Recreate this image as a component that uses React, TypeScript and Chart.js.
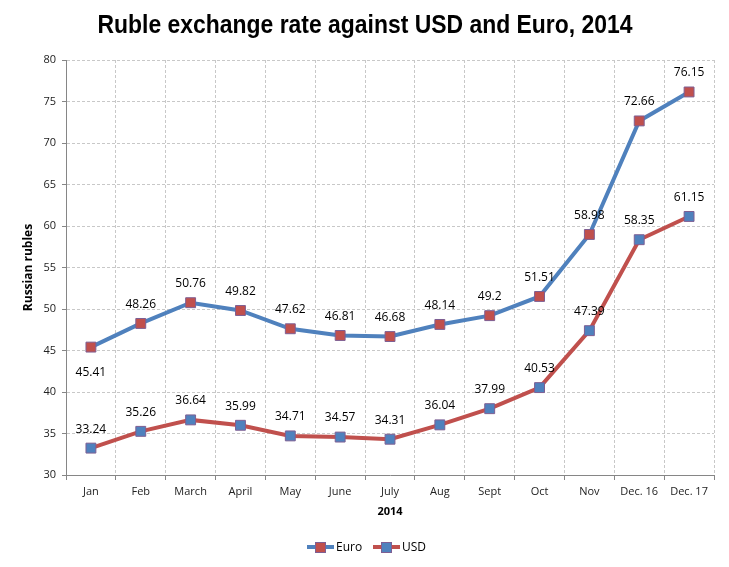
import React, { useEffect, useRef } from "react";
import { Chart, registerables } from "chart.js";

Chart.register(...registerables);

const categories = ["Jan", "Feb", "March", "April", "May", "June", "July", "Aug", "Sept", "Oct", "Nov", "Dec. 16", "Dec. 17"];
const euroValues = [45.41, 48.26, 50.76, 49.82, 47.62, 46.81, 46.68, 48.14, 49.2, 51.51, 58.98, 72.66, 76.15];
const usdValues = [33.24, 35.26, 36.64, 35.99, 34.71, 34.57, 34.31, 36.04, 37.99, 40.53, 47.39, 58.35, 61.15];
const euroLabelBelow = [true, false, false, false, false, false, false, false, false, false, false, false, false];
const titleText = "Ruble exchange rate against USD and Euro, 2014";
const xAxisTitle = "2014";
const yAxisTitle = "Russian rubles";

const BLUE = "#4F81BD";
const RED = "#C0504D";
const MARKER_BORDER = "#7E5F93";
const FONT = "'Open Sans', 'Liberation Sans', sans-serif";

export default function App() {
  const ref = useRef<HTMLCanvasElement>(null);

  useEffect(() => {
    const canvas = ref.current!;
    const overlay = {
      id: "overlay",
      afterDatasetsDraw(chart: any) {
        const ctx = chart.ctx;
        ctx.save();
        ctx.font = `12px ${FONT}`;
        ctx.fillStyle = "#000";
        ctx.textAlign = "center";
        ctx.textBaseline = "middle";
        chart.data.datasets.forEach((ds: any, di: number) => {
          const meta = chart.getDatasetMeta(di);
          meta.data.forEach((pt: any, i: number) => {
            const below = di === 0 && euroLabelBelow[i];
            const y = below ? pt.y + 25 : pt.y - 19;
            ctx.fillText(String(ds.data[i]), pt.x, y);
          });
        });
        ctx.restore();
      },
      afterDraw(chart: any) {
        const ctx = chart.ctx;
        ctx.save();
        // title, horizontally condensed to the reference width
        ctx.font = `bold 26px 'Liberation Sans', 'DejaVu Sans', sans-serif`;
        const w = ctx.measureText(titleText).width;
        const sx = 535 / w;
        ctx.fillStyle = "#000";
        ctx.textAlign = "center";
        ctx.textBaseline = "alphabetic";
        ctx.translate(365, 33);
        ctx.scale(sx, 1);
        ctx.fillText(titleText, 0, 0);
        ctx.restore();

        ctx.save();
        const items = [
          { label: "Euro", line: BLUE, fill: RED, x: 307 },
          { label: "USD", line: RED, fill: BLUE, x: 373 },
        ];
        const ly = 547;
        ctx.font = `12px ${FONT}`;
        ctx.textAlign = "left";
        ctx.textBaseline = "middle";
        items.forEach((it) => {
          ctx.strokeStyle = it.line;
          ctx.lineWidth = 4;
          ctx.beginPath();
          ctx.moveTo(it.x, ly);
          ctx.lineTo(it.x + 27, ly);
          ctx.stroke();
          ctx.fillStyle = it.fill;
          ctx.fillRect(it.x + 8, ly - 5, 11, 11);
          ctx.strokeStyle = MARKER_BORDER;
          ctx.lineWidth = 1;
          ctx.strokeRect(it.x + 8.5, ly - 4.5, 10, 10);
          ctx.fillStyle = "#000";
          ctx.fillText(it.label, it.x + 29, ly + 1);
        });
        ctx.restore();
      },
    };

    const chart = new Chart(canvas, {
      type: "line",
      data: {
        labels: categories,
        datasets: [
          {
            label: "Euro",
            data: euroValues,
            borderColor: BLUE,
            borderWidth: 4,
            pointStyle: "rect",
            pointRadius: 7,
            pointBackgroundColor: RED,
            pointBorderColor: MARKER_BORDER,
            pointBorderWidth: 1,
            tension: 0,
          },
          {
            label: "USD",
            data: usdValues,
            borderColor: RED,
            borderWidth: 4,
            pointStyle: "rect",
            pointRadius: 7,
            pointBackgroundColor: BLUE,
            pointBorderColor: MARKER_BORDER,
            pointBorderWidth: 1,
            tension: 0,
          },
        ],
      },
      options: {
        responsive: false,
        animation: false,
        layout: { padding: { top: 60, right: 15, bottom: 0, left: 0 } },
        plugins: {
          legend: { display: false },
          title: { display: false },
          tooltip: { enabled: false },
        },
        scales: {
          x: {
            offset: true,
            grid: {
              offset: true,
              color: "#C8C8C8",
              tickColor: "#868686",
              tickLength: 5,
              tickBorderDash: [],
            },
            border: { color: "#868686", width: 1, dash: [3, 2] },
            ticks: { font: { family: FONT, size: 11 }, color: "#222", padding: 5, maxRotation: 0, autoSkip: false },
            title: {
              display: true,
              text: xAxisTitle,
              font: { family: FONT, size: 11, weight: "bold" },
              color: "#000",
              padding: { top: 0, bottom: 49 },
            },
            afterFit(scale: any) {
              scale.height = 92;
            },
          },
          y: {
            min: 30,
            max: 80,
            ticks: { stepSize: 5, font: { family: FONT, size: 11 }, color: "#222", padding: 6 },
            grid: { color: "#C8C8C8", tickColor: "#868686", tickLength: 4, tickBorderDash: [] },
            border: { color: "#868686", width: 1, dash: [3, 2] },
            title: {
              display: true,
              text: yAxisTitle,
              font: { family: FONT, size: 12, weight: "bold" },
              color: "#000",
              padding: { top: 21, bottom: 0 },
            },
            afterFit(scale: any) {
              scale.width = 66;
            },
          },
        },
      },
      plugins: [overlay],
    } as any);

    return () => chart.destroy();
  }, []);

  return (
    <div style={{ position: "fixed", left: 0, top: 0, width: 729, height: 567, background: "#fff" }}>
      <canvas ref={ref} width={729} height={567} style={{ width: 729, height: 567 }} />
    </div>
  );
}
